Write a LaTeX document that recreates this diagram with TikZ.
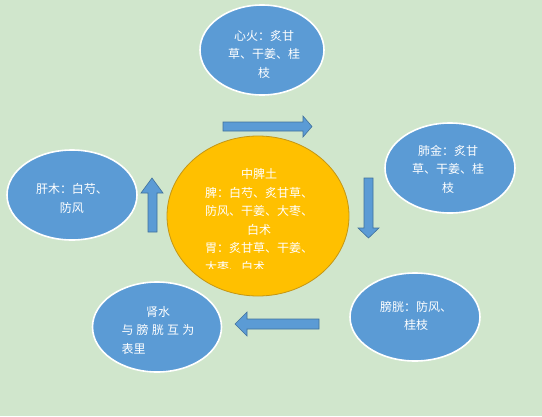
\documentclass[tikz,border=0pt]{standalone}
\usepackage{fontspec}
\setmainfont{Noto Sans CJK SC}
\usetikzlibrary{shapes.geometric}
\definecolor{bgc}{RGB}{208,230,204}
\definecolor{bluef}{RGB}{91,155,213}
\definecolor{blued}{RGB}{65,113,156}
\definecolor{yel}{RGB}{255,192,0}
\definecolor{yeld}{RGB}{196,150,20}
\tikzset{
  bubble/.style={ellipse, fill=bluef, draw=white, line width=1.6pt, inner sep=0pt},
  core/.style={ellipse, fill=yel, draw=yeld, line width=0.8pt, inner sep=0pt},
  txt/.style={text=white, font=\fontsize{12}{18.5}\selectfont, align=center, inner sep=0pt},
  blockarrow/.style={fill=bluef, draw=blued, line width=0.6pt, line join=miter}
}
\begin{document}
\begin{tikzpicture}[x=1pt,y=-1pt]
\fill[bgc] (0,0) rectangle (542,416);
\useasboundingbox (0,0) rectangle (542,416);

% ellipses
\node[bubble, minimum width=124pt, minimum height=90pt] (fire) at (262,50) {};
\node[bubble, minimum width=130pt, minimum height=90pt] (metal) at (450,168) {};
\node[bubble, minimum width=130pt, minimum height=90pt] (wood) at (72,195) {};
\node[bubble, minimum width=129pt, minimum height=90pt] (water) at (157,327) {};
\node[bubble, minimum width=130pt, minimum height=88pt] (blad) at (415,317) {};
\node[core, minimum width=182pt, minimum height=160pt] (earth) at (258,216) {};

% texts
\node[txt] (tfire) at (264,54) {心火：炙甘\\草、干姜、桂\\枝};
\node[txt] (tmetal) at (448,169) {肺金：炙甘\\草、干姜、桂\\枝};
\node[txt] (twood) at (72,198.5) {肝木：白芍、\\防风};
\node[txt] (tblad) at (416,316) {膀胱：防风、\\桂枝};
\node[txt] (twater) at (158,330) {肾水\\\makebox[73pt][s]{与\hfill 膀\hfill 胱\hfill 互\hfill 为}\\\makebox[73pt][l]{表里}};
\begin{scope}
\clip (150,130) rectangle (370,268);
\node[txt, anchor=north] (tearth) at (259,168.5) {中脾土\\脾：白芍、炙甘草、\\防风、干姜、大枣、\\白术\\胃：炙甘草、干姜、\\\makebox[108pt][l]{大枣、白术}};
\end{scope}

% block arrows
\draw[blockarrow] (223,122) -- (303,122) -- (303,116) -- (312,126.5) -- (303,137) -- (303,131) -- (223,131) -- cycle;
\draw[blockarrow] (364,178) -- (373,178) -- (373,228) -- (379,228) -- (368.5,238) -- (358,228) -- (364,228) -- cycle;
\draw[blockarrow] (319,319) -- (247,319) -- (247,312) -- (235,324) -- (247,336) -- (247,329) -- (319,329) -- cycle;
\draw[blockarrow] (148,232) -- (148,193) -- (141,193) -- (152,178) -- (163,193) -- (157,193) -- (157,232) -- cycle;
\end{tikzpicture}
\end{document}
